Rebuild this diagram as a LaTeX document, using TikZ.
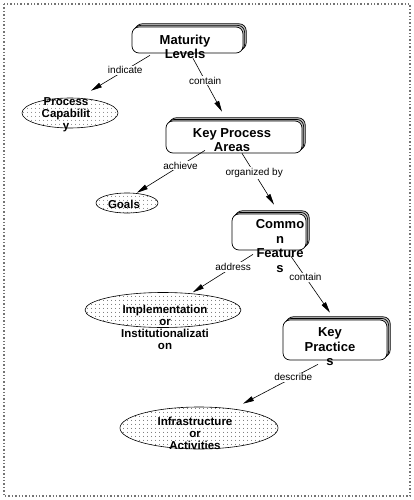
\documentclass[tikz,border=0pt]{standalone}
\usepackage{fontspec}
\setmainfont{Liberation Sans}
\usetikzlibrary{arrows.meta,shadows,shapes.geometric,patterns.meta}
\def\link{\draw[-{Triangle[length=11pt,width=5pt]}]}
\def\boxfont{\bfseries\fontsize{13}{14.5}\selectfont}
\def\blobfont{\bfseries\fontsize{11.5}{12}\selectfont}

\begin{document}
\begin{tikzpicture}[x=1pt,y=-1pt,line width=.6pt,
    card/.style={draw,fill=white,rounded corners=7pt,line width=.7pt,
      double copy shadow={shadow xshift=1.6pt,shadow yshift=1.6pt,fill=black!25}},
    blob/.style={ellipse,draw,inner sep=0pt,pattern={Dots[distance=4pt,radius=.45pt]}},
    cardtxt/.style={align=center,inner sep=0pt,font=\boxfont},
    blobtxt/.style={align=center,inner sep=0pt,font=\blobfont},
    lbl/.style={fill=white,inner sep=1pt,font=\fontsize{10}{10}\selectfont}]
    \useasboundingbox (0,0) rectangle (414,500);
    \draw[black!55,line width=1.4pt,dotted] (4,4) rectangle (410,496);
    % concepts
    \node[card,minimum width=111pt,minimum height=26pt] (mat) at (187.5,40) {};
    \node[card,minimum width=136pt,minimum height=32pt] (kpa) at (234,137) {};
    \node[card,minimum width=74pt,minimum height=36pt] (cf) at (269,232) {};
    \node[card,minimum width=104pt,minimum height=40pt] (kp) at (335,340) {};
    \node[blob,minimum width=96pt,minimum height=30pt] (proc) at (70,113) {};
    \node[blob,minimum width=62pt,minimum height=20pt] (goal) at (127,203) {};
    \node[blob,minimum width=156pt,minimum height=35pt] (impl) at (163,310) {};
    \node[blob,minimum width=158pt,minimum height=42pt] (infra) at (199,428) {};
    % texts
    \node[cardtxt] (matT) at (185,47) {Maturity\\Levels};
    \node[cardtxt] (kpaT) at (232,140) {Key Process\\Areas};
    \node[cardtxt] (cfT) at (280,246) {Commo\\n\\Feature\\s};
    \node[cardtxt] (kpT) at (330,347) {Key\\Practice\\s};
    \node[blobtxt] (procT) at (66,115) {Process\\Capabilit\\y};
    \node[blobtxt] (goalT) at (124,204) {Goals};
    \node[blobtxt] (implT) at (165,327) {Implementation\\or\\Institutionalizati\\on};
    \node[blobtxt] (infraT) at (195,433) {Infrastructure\\or\\Activities};
    % links
    \link ([xshift=-37.5pt,yshift=-2pt]mat.south) -- node[lbl,pos=.42] (l1) {indicate} ([xshift=21pt,yshift=7pt]proc.north);
    \link ([xshift=5.5pt,yshift=-5pt]mat.south) -- node[lbl,pos=.42] (l2) {contain} ([xshift=-12pt,yshift=9pt]kpa.north);
    \link ([xshift=-29pt,yshift=3pt]kpa.south) -- node[lbl,pos=.36] (l3) {achieve} ([xshift=10pt]goal.north);
    \link ([xshift=8pt]kpa.south) -- node[lbl,pos=.38] (l4) {organized by} ([xshift=5pt,yshift=9pt]cf.north);
    \link ([xshift=-16pt,yshift=-4pt]cf.south) -- node[lbl,pos=.33] (l5) {address} ([xshift=30pt]impl.north);
    \link ([xshift=22pt,yshift=-6pt]cf.south) -- node[lbl,pos=.37] (l6) {contain} ([xshift=-5pt,yshift=7pt]kp.north);
    \link ([xshift=-17pt,yshift=-4pt]kp.south) -- node[lbl,pos=.33] (l7) {describe} ([xshift=44pt,yshift=3pt]infra.north);
\end{tikzpicture}
\end{document}
